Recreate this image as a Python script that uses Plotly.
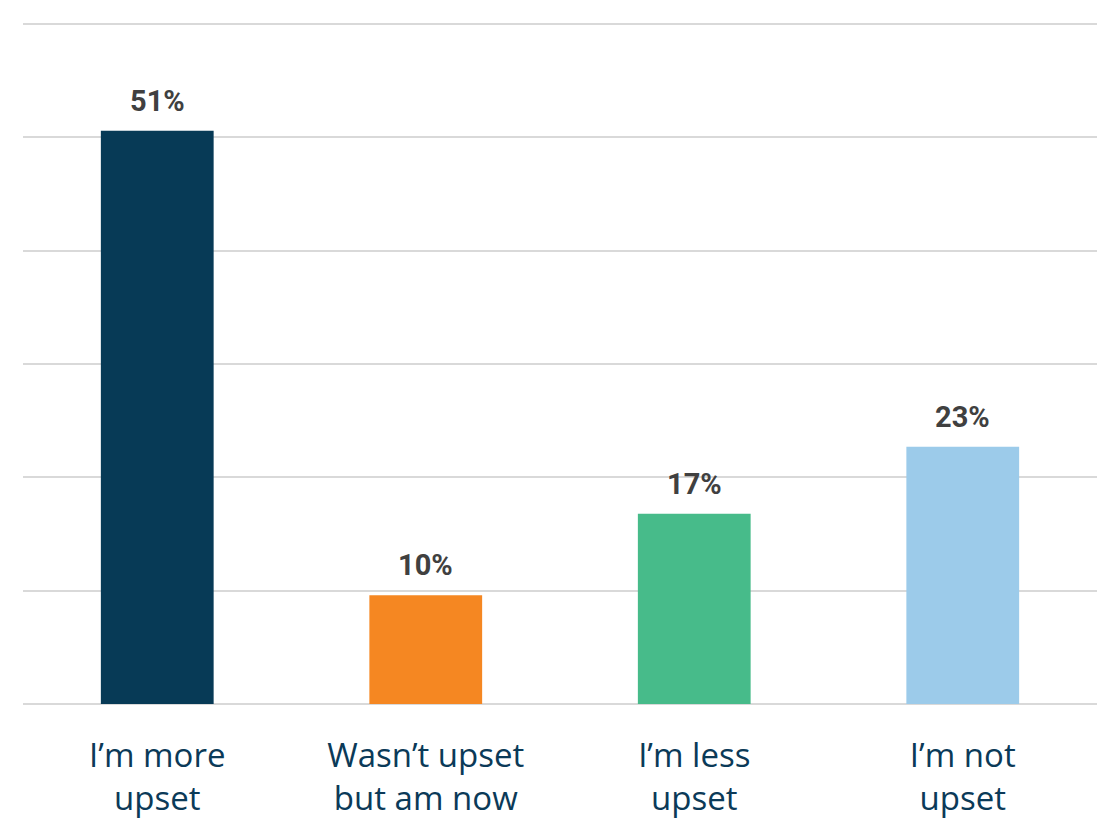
import plotly.graph_objects as go

categories = ["I’m more<br>upset", "Wasn’t upset<br>but am now", "I’m less<br>upset", "I’m not<br>upset"]
values = [50.6, 9.6, 16.8, 22.7]
colors = ["#073a56", "#f58722", "#47bb8a", "#9ccbea"]
labels = [f"{round(v)}%" for v in values]

fig = go.Figure()
fig.add_trace(go.Bar(x=categories, y=values, marker=dict(color=colors, line=dict(width=0)),
                     hoverinfo="skip"))
for c, v, t in zip(categories, values, labels):
    fig.add_annotation(x=c, y=v, text=f"<b>{t}</b>", showarrow=False, yanchor="bottom",
                       yshift=11, font=dict(family="Roboto", size=29, color="#404040"))

fig.update_layout(
    width=1110, height=829,
    margin=dict(l=15, r=21, t=15, b=133),
    plot_bgcolor="white", paper_bgcolor="white",
    bargap=0.58, showlegend=False,
    font=dict(family="Open Sans", size=33, color="#0b3a58"),
)
fig.update_xaxes(showline=False, ticks="", automargin=False, ticklabelstandoff=29,
                 tickfont=dict(size=33, color="#0b3a58"))
fig.update_yaxes(range=[0, 60.1], tickvals=[0, 10, 20, 30, 40, 50, 60], showticklabels=False,
                 automargin=False, showgrid=True,
                 gridcolor="#d9d9d9", gridwidth=2, zeroline=True, zerolinecolor="#d9d9d9",
                 zerolinewidth=2)
fig.write_html("out.html")
